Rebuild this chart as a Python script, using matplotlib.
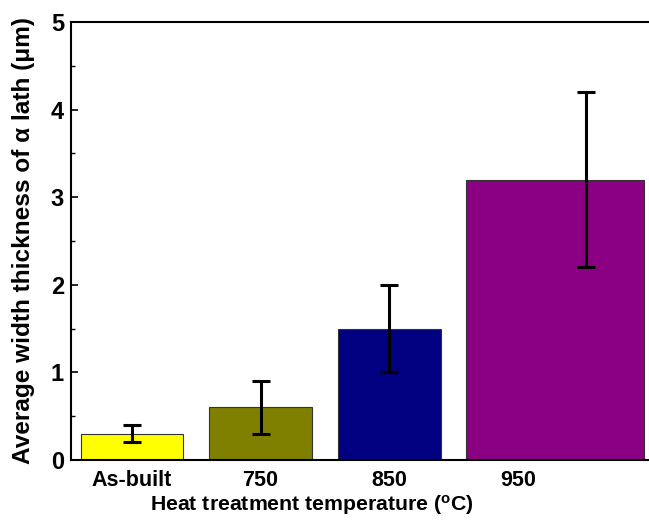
import matplotlib
matplotlib.use("Agg")
import matplotlib.pyplot as plt
from matplotlib.ticker import MultipleLocator

categories = ["As-built", "750", "850", "950"]
values = [0.3, 0.6, 1.5, 3.2]
err_low = [0.2, 0.3, 1.0, 2.2]
err_high = [0.4, 0.9, 2.0, 4.2]
colors = ["#FFFF00", "#808000", "#000080", "#8B0082"]

# layout (bar geometry as in the reference image)
bar_centers = [0.0, 1.0, 2.0, 3.29]
bar_widths = [0.8, 0.8, 0.8, 1.38]
err_x = [0.0, 1.0, 2.0, 3.53]

plt.rcParams["font.family"] = ["Liberation Sans", "DejaVu Sans"]
plt.rcParams["font.weight"] = "bold"
plt.rcParams["axes.labelweight"] = "bold"

fig = plt.figure(figsize=(6.49, 5.21), dpi=100)
ax = fig.add_axes([71/649, 1 - 460/521, 1 - 71/649, (460 - 22)/521])

ax.bar(bar_centers, values, width=bar_widths, color=colors,
       edgecolor="#333333", linewidth=0.8, zorder=2)
yerr = [[v - l for v, l in zip(values, err_low)],
        [h - v for v, h in zip(values, err_high)]]
ax.errorbar(err_x, values, yerr=yerr, fmt="none", ecolor="black",
            elinewidth=2.2, capsize=6.5, capthick=2.2, zorder=3)

ax.set_xlim(-0.474, 4.02)
ax.set_ylim(0, 5)
ax.set_xticks(range(len(categories)))
ax.set_xticklabels(categories)
ax.yaxis.set_major_locator(MultipleLocator(1))
ax.yaxis.set_minor_locator(MultipleLocator(0.5))
ax.tick_params(axis="x", length=0, labelsize=15.5, pad=7)
ax.tick_params(axis="y", which="major", direction="in", length=5, width=1.2, labelsize=17, pad=5)
ax.tick_params(axis="y", which="minor", direction="in", length=3, width=1.0)
for s in ["left", "bottom", "top"]:
    ax.spines[s].set_linewidth(1.5)
ax.spines["right"].set_visible(False)

ax.set_xlabel(r"Heat treatment temperature ($\mathregular{^o}$C)", fontsize=15.3)
ax.set_ylabel("Average width thickness of α lath (μm)", fontsize=17.6)
ax.xaxis.set_label_coords((312 - 71) / 578, -(505 - 460) / 438, transform=ax.transAxes)
ax.xaxis.label.set_va("center")
ax.yaxis.set_label_coords(-(71 - 24) / 578, 0.5, transform=ax.transAxes)
ax.yaxis.label.set_va("center")

fig.savefig("out.png", dpi=100)
